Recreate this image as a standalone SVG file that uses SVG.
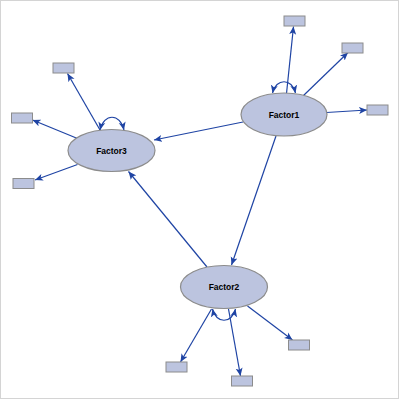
<svg xmlns="http://www.w3.org/2000/svg" width="400" height="400" viewBox="0 0 400 400">
<style>
.lv{fill:#bcc4df;stroke:#8c8c8c;stroke-width:1.2}
.mv{fill:#bcc4df;stroke:#8c8c8c;stroke-width:1}
.lbl{font-family:"Liberation Sans",Arial,sans-serif;font-weight:bold;font-size:8.5px;fill:#000;text-anchor:middle}
.e{fill:none;stroke:#1f44a4;stroke-width:1.2;marker-end:url(#ah)}
.loop{fill:none;stroke:#1f44a4;stroke-width:1.2;marker-start:url(#ahs);marker-end:url(#ah)}
</style>
<defs>
<marker id="ah" markerUnits="userSpaceOnUse" markerWidth="10" markerHeight="8" refX="8" refY="4" orient="auto">
<path d="M0,0.5 L8,4 L0,7.5 L2,4 Z" fill="#1f44a4"/>
</marker>
<marker id="ahs" markerUnits="userSpaceOnUse" markerWidth="10" markerHeight="8" refX="8" refY="4" orient="auto-start-reverse">
<path d="M0,0.5 L8,4 L0,7.5 L2,4 Z" fill="#1f44a4"/>
</marker>
</defs>
<rect x="0.5" y="0.5" width="398" height="398" fill="#fff" stroke="#d4d4d4"/>
<g id="connectors">
<line class="e" x1="243" y1="122" x2="154" y2="140"/>
<line class="e" x1="276" y1="136" x2="231.5" y2="265"/>
<line class="e" x1="207" y1="267" x2="128.5" y2="171.5"/>
<line class="e" x1="286.5" y1="93.5" x2="293.5" y2="26.5"/>
<line class="e" x1="303.5" y1="95.5" x2="348" y2="52.5"/>
<line class="e" x1="326.5" y1="112.5" x2="367" y2="110"/>
<path class="loop" d="M272.5,93 C276,78 292,78 295.5,93"/>
<line class="e" x1="100" y1="130" x2="67.5" y2="73.5"/>
<line class="e" x1="77.5" y1="138.5" x2="32.5" y2="120"/>
<line class="e" x1="77.5" y1="164.5" x2="35" y2="180"/>
<path class="loop" d="M100,130 C104,113 120,113 124,130"/>
<line class="e" x1="211.5" y1="309" x2="180.5" y2="362"/>
<line class="e" x1="228.5" y1="309" x2="240.5" y2="376"/>
<line class="e" x1="247.5" y1="306" x2="292.5" y2="340"/>
<path class="loop" d="M212.5,309 C216,324 232,324 235.5,309"/>
</g>
<g id="Factor1">
<ellipse class="lv" cx="284" cy="114.5" rx="43" ry="21.5"/>
<text class="lbl" x="284" y="117.5">Factor1</text>
</g>
<g id="Factor3">
<ellipse class="lv" cx="111.5" cy="150.5" rx="43.5" ry="21"/>
<text class="lbl" x="111.5" y="153.5">Factor3</text>
</g>
<g id="Factor2">
<ellipse class="lv" cx="224" cy="287" rx="43.5" ry="21.5"/>
<text class="lbl" x="224" y="290">Factor2</text>
</g>
<g id="F1_ind1"><rect class="mv" x="284" y="16" width="21" height="10"/></g>
<g id="F1_ind2"><rect class="mv" x="342" y="43" width="21" height="10"/></g>
<g id="F1_ind3"><rect class="mv" x="367" y="105" width="21" height="10"/></g>
<g id="F3_ind1"><rect class="mv" x="53" y="63" width="21" height="10"/></g>
<g id="F3_ind2"><rect class="mv" x="11.5" y="113" width="21" height="10"/></g>
<g id="F3_ind3"><rect class="mv" x="13" y="178.5" width="21" height="10"/></g>
<g id="F2_ind1"><rect class="mv" x="166" y="362" width="21" height="10"/></g>
<g id="F2_ind2"><rect class="mv" x="231.5" y="376" width="21" height="10"/></g>
<g id="F2_ind3"><rect class="mv" x="288.5" y="340" width="21" height="10"/></g>
</svg>
